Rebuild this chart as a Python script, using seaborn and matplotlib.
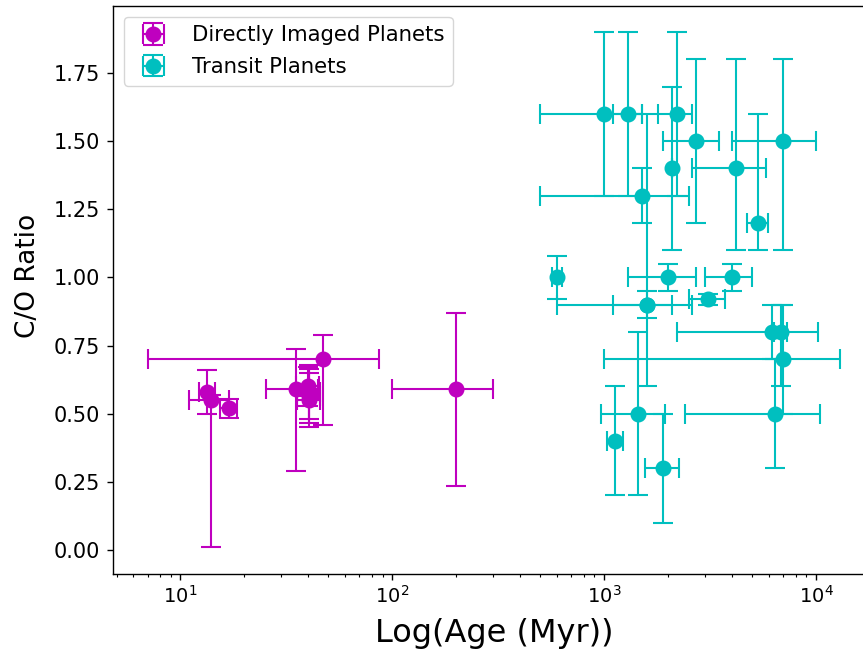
import numpy as np
import pandas as pd
import matplotlib
matplotlib.use("Agg")
import matplotlib.pyplot as plt
import seaborn as sns

# Directly imaged planets
di_age = [13.4, 14.0, 16.9, 35.0, 40.0, 40.5, 40.5, 40.5, 47.0, 200.0]
di_age_err = [1.1, 3.0, 1.5, 9.7, 5.0, 5.0, 5.0, 5.0, 40.0, 100.0]
di_co = [0.58, 0.55, 0.52, 0.59, 0.60, 0.58, 0.565, 0.55, 0.70, 0.59]
di_co_lo = [0.08, 0.54, 0.035, 0.30, 0.07, 0.10, 0.10, 0.10, 0.24, 0.354]
di_co_hi = [0.08, 0.02, 0.035, 0.147, 0.07, 0.10, 0.10, 0.10, 0.09, 0.279]

# Transit planets
tr_age = [1000, 1300, 2200, 2080, 1500, 2700, 4200, 7000, 5300, 600, 2000,
          1600, 1600, 3100, 4000, 1450, 1130, 1900, 6200, 6800, 7000, 6400]
tr_age_err = [500, 200, 400, 0, 1000, 800, 1600, 3000, 600, 30, 700,
              500, 1000, 600, 1000, 480, 95, 350, 4000, 500, 6000, 4000]
tr_co = [1.60, 1.60, 1.60, 1.40, 1.30, 1.50, 1.40, 1.50, 1.20, 1.00, 1.00,
         0.90, 0.90, 0.92, 1.00, 0.50, 0.40, 0.30, 0.80, 0.80, 0.70, 0.50]
tr_co_lo = [0.30, 0.30, 0.30, 0.30, 0.10, 0.30, 0.30, 0.40, 0.10, 0.08, 0.05,
            0.05, 0.30, 0.02, 0.05, 0.30, 0.20, 0.20, 0.10, 0.20, 0.20, 0.20]
tr_co_hi = [0.30, 0.30, 0.30, 0.30, 0.10, 0.30, 0.40, 0.30, 0.40, 0.08, 0.05,
            0.05, 0.70, 0.02, 0.05, 0.30, 0.20, 0.20, 0.10, 0.10, 0.20, 0.20]

labels = ["Directly Imaged Planets", "Transit Planets"]
colors = ["#bf00bf", "#00bfbf"]

sns.set_style("ticks")
plt.rcParams["font.family"] = ["DejaVu Sans"]
plt.rcParams["text.color"] = "black"
plt.rcParams["axes.labelcolor"] = "black"
plt.rcParams["xtick.color"] = "black"
plt.rcParams["ytick.color"] = "black"

fig = plt.figure(figsize=(8.63, 6.5), dpi=100)
ax = fig.add_axes([113 / 863, 1 - 573.7 / 650, (875 - 113) / 863, (573.7 - 6.2) / 650])

di = pd.DataFrame({"age": di_age, "co": di_co})
tr = pd.DataFrame({"age": tr_age, "co": tr_co})

ax.errorbar(di_age, di_co, xerr=di_age_err, yerr=[di_co_lo, di_co_hi],
            fmt="o", color=colors[0], ms=10.5, lw=1.5, capsize=7, capthick=1.5,
            label=labels[0])
ax.errorbar(tr_age, tr_co, xerr=tr_age_err, yerr=[tr_co_lo, tr_co_hi],
            fmt="o", color=colors[1], ms=10.5, lw=1.5, capsize=7, capthick=1.5,
            label=labels[1])
sns.scatterplot(data=di, x="age", y="co", color=colors[0], s=105, linewidth=0,
                ax=ax, legend=False, zorder=3)
sns.scatterplot(data=tr, x="age", y="co", color=colors[1], s=105, linewidth=0,
                ax=ax, legend=False, zorder=3)

ax.set_xscale("log")
ax.set_xlim(10 ** 0.682, 10 ** 4.278)
ax.set_ylim(-0.087, 1.995)
ax.set_yticks([0, 0.25, 0.5, 0.75, 1.0, 1.25, 1.5, 1.75])
ax.yaxis.set_major_formatter(matplotlib.ticker.FormatStrFormatter("%.2f"))
ax.tick_params(axis="both", which="major", length=4.5, width=1, color="black")
ax.tick_params(axis="y", which="major", labelsize=15, pad=5)
ax.tick_params(axis="x", which="major", labelsize=14)
ax.tick_params(axis="x", which="minor", length=2.5, width=0.8, color="black")
for s in ax.spines.values():
    s.set_color("black")
    s.set_linewidth(1.0)

ax.set_xlabel("Log(Age (Myr))", fontsize=23, labelpad=8)
ax.set_ylabel("C/O Ratio", fontsize=19, labelpad=9)
ax.yaxis.label.set_y(0.525)
ax.legend(loc="upper left", fontsize=15.3, borderaxespad=0.5, labelspacing=0.55)

fig.savefig("out.png", dpi=100)
